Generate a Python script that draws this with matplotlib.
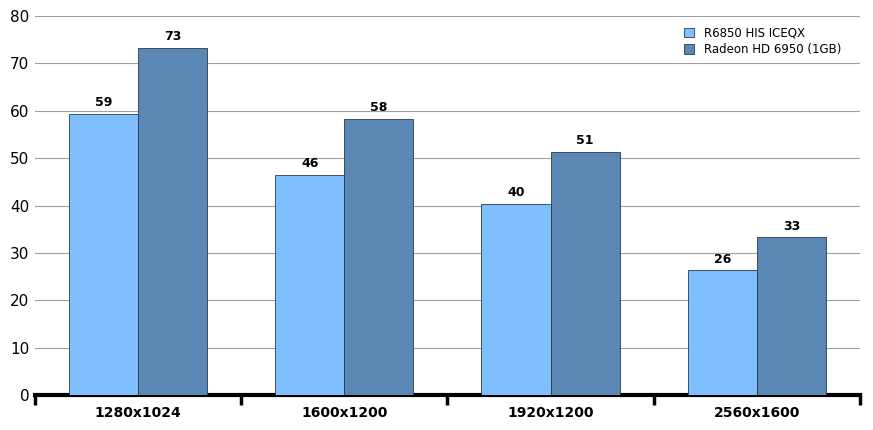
import numpy as np
import matplotlib.pyplot as plt

categories = ["1280x1024", "1600x1200", "1920x1200", "2560x1600"]
series_names = ["R6850 HIS ICEQX", "Radeon HD 6950 (1GB)"]
iceqx = [59.3, 46.4, 40.3, 26.3]
hd6950 = [73.3, 58.3, 51.3, 33.3]
colors = ["#80BFFF", "#5B87B5"]

fig = plt.figure(figsize=(8.73, 4.30), dpi=100)
ax = fig.add_axes([0.040, 0.081, 0.945, 0.882])

x = np.arange(len(categories)) + 0.5
w = 0.335
for vals, off, c, name in [(iceqx, -w / 2, colors[0], series_names[0]),
                           (hd6950, w / 2, colors[1], series_names[1])]:
    bars = ax.bar(x + off, vals, w, color=c, edgecolor="#2a3a4a", linewidth=0.6, label=name, zorder=3)
    for b, v in zip(bars, vals):
        ax.text(b.get_x() + b.get_width() / 2, v + 1, f"{int(v)}", ha="center", va="bottom",
                fontsize=9, fontweight="bold")

ax.set_xlim(0, 4)
ax.set_ylim(0, 80)
ax.set_yticks(range(0, 81, 10))
ax.yaxis.grid(True, color="#a0a0a0", linewidth=0.8, zorder=0)
ax.tick_params(axis="y", length=0, labelsize=11, pad=4)
ax.set_xticks(range(5))
ax.set_xticklabels([])
ax.set_xticks(x, minor=True)
ax.set_xticklabels(categories, minor=True, fontsize=10, fontweight="bold")
ax.tick_params(axis="x", which="minor", length=0, pad=8)
ax.tick_params(axis="x", which="major", direction="out", length=7, width=2.5)
for s in ["top", "right", "left"]:
    ax.spines[s].set_visible(False)
ax.spines["bottom"].set_linewidth(3)

ax.legend(loc="upper right", bbox_to_anchor=(0.99, 1.0), frameon=False, fontsize=8.5,
          handlelength=0.9, handleheight=0.9, labelspacing=0.3)

fig.savefig("out.png", dpi=100)
